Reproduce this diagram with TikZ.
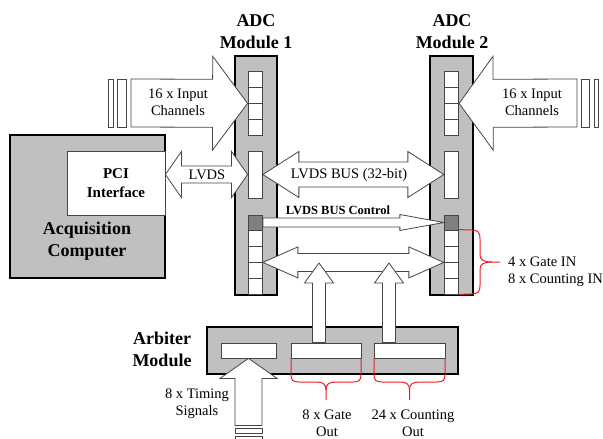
\documentclass[tikz,border=0pt]{standalone}
\usepackage{fontspec}
\setmainfont{Liberation Serif}[BoldFont={Liberation Serif Bold}]
\usetikzlibrary{calc}

\definecolor{modgray}{RGB}{192,192,192}
\definecolor{ctrlgray}{RGB}{128,128,128}
\definecolor{bracered}{RGB}{235,30,35}
\definecolor{edgegray}{RGB}{70,70,70}

\newcommand{\fsmall}{\fontsize{14.5}{17}\selectfont}
\newcommand{\ftitle}{\fontsize{18}{22}\selectfont}
\newcommand{\fpci}{\fontsize{15}{19}\selectfont}
\newcommand{\fctrl}{\fontsize{12.5}{15}\selectfont}

% block arrow: #1 start, #2 tip, #3 half shaft, #4 half head, #5 head length
\newcommand{\blockarrow}[5]{%
  \coordinate (ba) at ($(#2)!#5!(#1)$);
  \filldraw[barrow] ($(#1)!#3!90:(#2)$) -- ($(ba)!#3!90:(#2)$) -- ($(ba)!#4!90:(#2)$) -- (#2)
    -- ($(ba)!#4!-90:(#2)$) -- ($(ba)!#3!-90:(#2)$) -- ($(#1)!#3!-90:(#2)$) -- cycle;}

% double block arrow: #1 and #2 tips
\newcommand{\dblockarrow}[5]{%
  \coordinate (da) at ($(#1)!#5!(#2)$);
  \coordinate (db) at ($(#2)!#5!(#1)$);
  \filldraw[barrow] (#1) -- ($(da)!#4!90:(#2)$) -- ($(da)!#3!90:(#2)$) -- ($(db)!#3!-90:(#1)$)
    -- ($(db)!#4!-90:(#1)$) -- (#2) -- ($(db)!#4!90:(#1)$) -- ($(db)!#3!90:(#1)$)
    -- ($(da)!#3!-90:(#2)$) -- ($(da)!#4!-90:(#2)$) -- cycle;}

% red brace under an arbiter output
\newcommand{\dnbrace}[2]{%
  \pgfmathsetmacro{\bmid}{(#1+#2)/2}
  \draw[brace] (#1,358) -- (#1,375) .. controls (#1,380) and (#1+2,382) .. (#1+8,382) -- (\bmid-10,382)
    .. controls (\bmid-3,382) and (\bmid,384) .. (\bmid,390) -- (\bmid,400);
  \draw[brace] (#2,358) -- (#2,375) .. controls (#2,380) and (#2-2,382) .. (#2-8,382) -- (\bmid+10,382)
    .. controls (\bmid+3,382) and (\bmid,384) .. (\bmid,390);}

\begin{document}
\begin{tikzpicture}[x=1pt, y=-1pt,
    module/.style={draw=black, fill=modgray, line width=1.2pt, inner sep=0pt},
    cell/.style={draw=edgegray, fill=white, line width=0.8pt, inner sep=0pt, minimum width=14.5pt, minimum height=16pt},
    ctrl/.style={cell, fill=ctrlgray, minimum height=15pt},
    barrow/.style={draw=edgegray, fill=white, line width=0.8pt},
    brace/.style={draw=bracered, line width=1pt},
    lbl/.style={font=\fsmall, align=center, inner sep=0pt},
    title/.style={font=\ftitle\bfseries, align=center, inner sep=0pt}
]
\useasboundingbox (0,0) rectangle (603,439);

% Acquisition computer
\node[module, minimum width=155pt, minimum height=143pt] (comp) at (87.5,206.5) {};
\node[draw=edgegray, fill=white, line width=0.8pt, minimum width=98pt, minimum height=64pt,
      font=\fpci\bfseries, align=center] (pci) at (116,183) {PCI\\Interface};
\node[title] (compl) at (87,241) {Acquisition\\Computer};

% ADC modules
\node[module, minimum width=42pt, minimum height=239pt] (col1) at (256,175.5) {};
\node[module, minimum width=43pt, minimum height=239pt] (col2) at (451.5,175.5) {};
\foreach \i in {1,...,4} {
  \node[cell] (a\i) at (255.2,63+16*\i) {};
  \node[cell] (c\i) at (451.5,63+16*\i) {};
  \node[cell] (b\i) at (255.2,222+16*\i) {};
  \node[cell] (d\i) at (451.5,222+16*\i) {};
}
\node[cell, minimum height=47pt] (m1) at (255.2,174.5) {};
\node[cell, minimum height=47pt] (m2) at (451.5,174.5) {};
\node[ctrl] (k1) at (255.2,222.5) {};
\node[ctrl] (k2) at (451.5,222.5) {};
\node[title] (t1) at (256,32) {ADC\\Module 1};
\node[title] (t2) at (452,32) {ADC\\Module 2};

% Arbiter module
\node[module, minimum width=251pt, minimum height=47pt] (arb) at (332.5,350.5) {};
\node[cell, minimum width=55pt, minimum height=15pt] (g1) at (248.5,350.5) {};
\node[cell, minimum width=70pt, minimum height=15pt] (g2) at (326,350.5) {};
\node[cell, minimum width=71pt, minimum height=15pt] (g3) at (409.5,350.5) {};
\node[title] (arbl) at (162,349.5) {Arbiter\\Module};

% Input channels
\coordinate (in1s) at (131,103);
\coordinate (in2s) at (577,103);
\blockarrow{in1s}{a2.south west}{24pt}{47pt}{35pt}
\blockarrow{in2s}{c2.south east}{24pt}{47pt}{34pt}
\filldraw[barrow] (108,79) rectangle (113,127) (117,79) rectangle (126,127);
\filldraw[barrow] (581,79) rectangle (589,127) (594,79) rectangle (598,127);
\node[lbl] (in1l) at (178,102) {16 x Input\\Channels};
\node[lbl] (in2l) at (532,102) {16 x Input\\Channels};

% LVDS links
\coordinate (pcis) at (pci.east |- m1.west);
\dblockarrow{pcis}{m1.west}{8.5pt}{23pt}{16pt}
\dblockarrow{m1.east}{m2.west}{12.5pt}{23pt}{36pt}
\blockarrow{k1.east}{k2.west}{4.5pt}{8pt}{44pt}
\dblockarrow{b2.south east}{d2.south west}{9pt}{15.5pt}{35pt}
\node[lbl] (lvds) at (207,175) {LVDS};
\node[lbl] (bus) at (349,175) {LVDS BUS (32-bit)};
\node[font=\fctrl\bfseries, inner sep=0pt] (ctl) at (338,210) {LVDS BUS Control};

% Arbiter outputs and timing input
\coordinate (up1) at (319,263);
\coordinate (up2) at (389,263);
\coordinate (up1s) at (up1 |- g2.north);
\coordinate (up2s) at (up2 |- g3.north);
\blockarrow{up1s}{up1}{6.5pt}{14.5pt}{20pt}
\blockarrow{up2s}{up2}{6.5pt}{14.5pt}{20pt}
\coordinate (tims) at ($(g1.south)+(0,67)$);
\blockarrow{tims}{g1.south}{13.5pt}{28.5pt}{20pt}
\filldraw[barrow] (235,428) rectangle (262,433) (235,436) rectangle (262,442);
\node[lbl] (timl) at (197,403.5) {8 x Timing\\Signals};

% Braces
\draw[brace] (d1.north east) -- (471,230) .. controls (478,230) and (480,232) .. (480,239) -- (480,255)
  .. controls (480,260) and (484,262) .. (492,262) -- (500,262);
\draw[brace] (d4.south east) -- (471,294) .. controls (478,294) and (480,292) .. (480,285) -- (480,269)
  .. controls (480,264) and (484,262) .. (492,262);
\node[lbl, align=left, anchor=west] (gin) at (508,271.5) {4 x Gate IN\\8 x Counting IN};
\dnbrace{291}{361}
\dnbrace{374}{445}
\node[lbl] (gout) at (327,423.5) {8 x Gate\\Out};
\node[lbl] (cout) at (413,423.5) {24 x Counting\\Out};

\end{tikzpicture}
\end{document}
